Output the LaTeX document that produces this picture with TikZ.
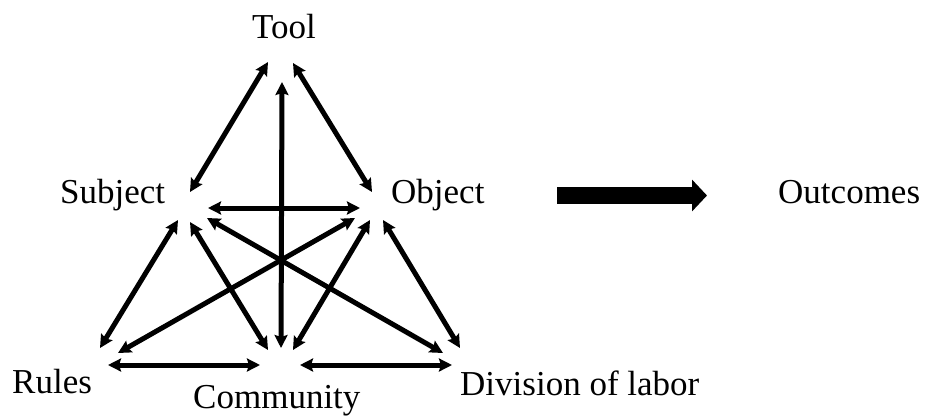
\documentclass[tikz,border=0pt]{standalone}
\usepackage{fontspec}
\setmainfont{Liberation Serif}
\usetikzlibrary{arrows.meta}
\begin{document}
\begin{tikzpicture}[x=1pt,y=-1pt,
  lbl/.style={inner sep=0pt,anchor=base west,font=\fontsize{35}{40}\selectfont},
  link/.style={line width=5pt,{Stealth[length=13pt,width=13pt,inset=2pt]}-{Stealth[length=13pt,width=13pt,inset=2pt]}},
  bigarrow/.style={line width=17pt,-{Triangle[length=15pt,width=31pt]}}]
\useasboundingbox (0,0) rectangle (925,416);
% labels
\node[lbl] (tool) at (252,38) {Tool};
\node[lbl] (subject) at (60,203) {Subject};
\node[lbl] (object) at (391,203) {Object};
\node[lbl] (outcomes) at (778,203) {Outcomes};
\node[lbl] (rules) at (12,393) {Rules};
\node[lbl] (community) at (193,408) {Community};
\node[lbl] (division) at (460,395) {Division of labor};
% end points
\coordinate (tS) at (268,62);
\coordinate (tO) at (293,63);
\coordinate (tC) at (282,82);
\coordinate (sT) at (190,192);
\coordinate (sO) at (208,208);
\coordinate (sR) at (178,220);
\coordinate (sC) at (190,222);
\coordinate (sD) at (207,218);
\coordinate (oT) at (372,192);
\coordinate (oS) at (360,208);
\coordinate (oR) at (355,218);
\coordinate (oC) at (370,220);
\coordinate (oD) at (383,220);
\coordinate (rS) at (100,348);
\coordinate (rO) at (118,353);
\coordinate (rC) at (108,365);
\coordinate (cR) at (260,365);
\coordinate (cS) at (268,350);
\coordinate (cT) at (281,348);
\coordinate (cO) at (293,350);
\coordinate (cD) at (300,365);
\coordinate (dC) at (452,365);
\coordinate (dS) at (443,353);
\coordinate (dO) at (460,348);
\coordinate (arrS) at (557,195.5);
\coordinate (arrE) at (707,195.5);
% connectors
\draw[link] (sT) -- (tS);
\draw[link] (tO) -- (oT);
\draw[link] (tC) -- (cT);
\draw[link] (sO) -- (oS);
\draw[link] (sR) -- (rS);
\draw[link] (sC) -- (cS);
\draw[link] (sD) -- (dS);
\draw[link] (oR) -- (rO);
\draw[link] (oC) -- (cO);
\draw[link] (oD) -- (dO);
\draw[link] (rC) -- (cR);
\draw[link] (cD) -- (dC);
\draw[bigarrow] (arrS) -- (arrE);
\end{tikzpicture}
\end{document}
